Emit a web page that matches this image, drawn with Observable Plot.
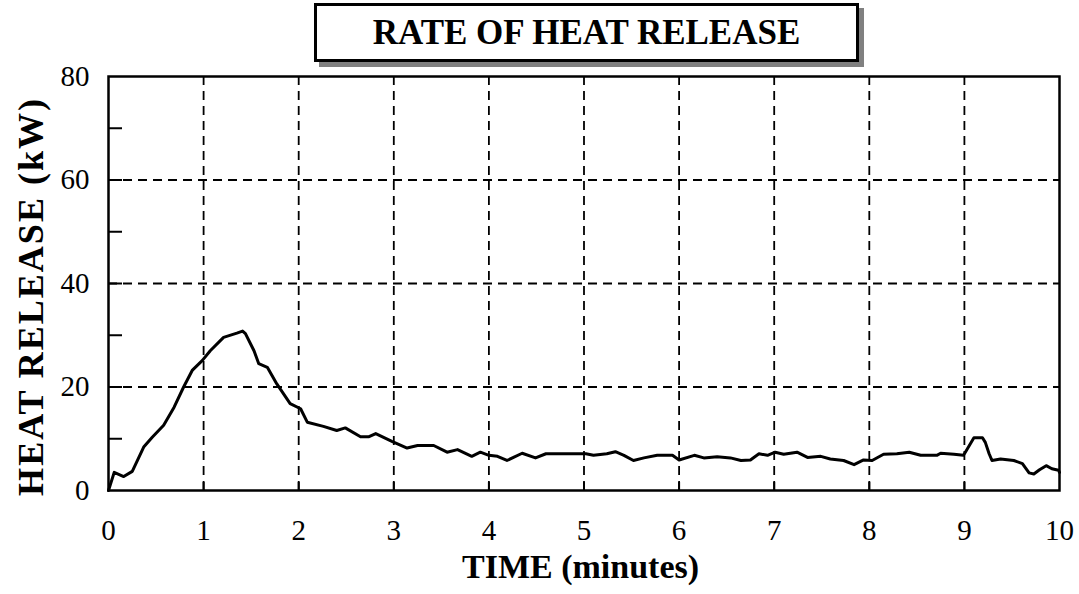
<!DOCTYPE html>
<html>
<head>
<meta charset="utf-8">
<script src="https://cdn.jsdelivr.net/npm/d3@7"></script>
<script src="https://cdn.jsdelivr.net/npm/@observablehq/plot@0.6"></script>
<style>
  html, body { margin: 0; padding: 0; background: #fff; }
  #wrap { position: relative; width: 1079px; height: 594px; }
  #title {
    position: absolute; left: 314px; top: 3px; width: 545px; height: 59px;
    box-sizing: border-box; border: 3px solid #000; background: #fff;
    box-shadow: 5px 5px 0 #808080;
    display: flex; align-items: center; justify-content: center;
    font-family: "Liberation Serif", "Times New Roman", serif; font-weight: bold; font-size: 35px;
    color: #000;
  }
  #wrap svg { position: absolute; left: 0; top: 0; }
  .ylab text { letter-spacing: 2px; }
</style>
</head>
<body>
<div id="wrap"><div id="title">RATE OF HEAT RELEASE</div></div>
<script>
const times = [0, 0.06, 0.16, 0.25, 0.37, 0.46, 0.58, 0.69, 0.79, 0.88, 0.985, 1.07, 1.21, 1.35, 1.41, 1.44, 1.53, 1.58, 1.67, 1.77, 1.91, 2.02, 2.09, 2.26, 2.40, 2.49, 2.65, 2.74, 2.81, 2.98, 3.14, 3.25, 3.42, 3.56, 3.67, 3.82, 3.91, 4.0, 4.09, 4.19, 4.35, 4.49, 4.60, 4.86, 5.02, 5.10, 5.24, 5.33, 5.42, 5.52, 5.63, 5.77, 5.93, 6.0, 6.16, 6.26, 6.40, 6.54, 6.65, 6.75, 6.84, 6.93, 7.01, 7.10, 7.24, 7.35, 7.49, 7.59, 7.73, 7.84, 7.94, 8.03, 8.15, 8.29, 8.42, 8.54, 8.71, 8.75, 8.89, 8.99, 9.01, 9.10, 9.19, 9.22, 9.26, 9.29, 9.38, 9.52, 9.61, 9.68, 9.73, 9.79, 9.86, 9.92, 9.99, 10.0];
const heat = [0, 3.5, 2.7, 3.7, 8.4, 10.3, 12.6, 16.1, 20, 23.2, 25.1, 27, 29.6, 30.4, 30.8, 30.3, 27, 24.5, 23.8, 20.6, 16.8, 15.8, 13.2, 12.4, 11.6, 12.1, 10.4, 10.4, 11, 9.5, 8.2, 8.7, 8.7, 7.4, 7.9, 6.6, 7.4, 6.8, 6.6, 5.8, 7.2, 6.3, 7.1, 7.1, 7.1, 6.8, 7.1, 7.5, 6.8, 5.8, 6.3, 6.8, 6.8, 5.9, 6.8, 6.3, 6.5, 6.3, 5.8, 5.9, 7.1, 6.8, 7.4, 7.0, 7.4, 6.4, 6.6, 6.1, 5.8, 5.0, 5.9, 5.8, 7.0, 7.1, 7.4, 6.8, 6.8, 7.2, 7.0, 6.8, 7.4, 10.2, 10.2, 9.3, 7.1, 5.8, 6.1, 5.8, 5.2, 3.4, 3.2, 4.0, 4.8, 4.2, 3.9, 3.5];
const xTicks = [0, 1, 2, 3, 4, 5, 6, 7, 8, 9, 10];
const yTicks = [0, 20, 40, 60, 80];
const yMinorTicks = [10, 20, 30, 40, 50, 60, 70];
const xGrid = [1, 2, 3, 4, 5, 6, 7, 8, 9];
const yGrid = [20, 40, 60];
const xLabel = "TIME (minutes)";
const yLabel = "HEAT RELEASE (kW)";

const data = times.map((t, i) => ({t, v: heat[i]}));
const serif = "'Liberation Serif', 'Times New Roman', serif";

const chart = Plot.plot({
  width: 1079,
  height: 594,
  marginLeft: 108,
  marginRight: 20,
  marginTop: 76,
  marginBottom: 104,
  style: {fontFamily: serif, color: "#000", background: "transparent"},
  x: {domain: [0, 10]},
  y: {domain: [0, 80]},
  marks: [
    Plot.gridX(xGrid, {stroke: "#000", strokeOpacity: 1, strokeWidth: 1.8, strokeDasharray: "9,6"}),
    Plot.gridY(yGrid, {stroke: "#000", strokeOpacity: 1, strokeWidth: 1.8, strokeDasharray: "9,6"}),
    Plot.axisY(yMinorTicks, {tickSize: -14, text: null, strokeWidth: 2, label: null}),
    Plot.axisX(xGrid, {tickSize: -8, text: null, strokeWidth: 2, label: null}),
    Plot.axisX(xTicks, {tickSize: 0, tickPadding: 29, fontSize: 29, label: null}),
    Plot.axisY(yTicks, {tickSize: 0, tickPadding: 19, fontSize: 29, label: null}),
    Plot.line(data, {x: "t", y: "v", stroke: "#000", strokeWidth: 3, strokeLinejoin: "round"}),
    Plot.frame({stroke: "#000", strokeWidth: 2.5}),
    Plot.text([xLabel], {text: d => d, frameAnchor: "bottom", dy: 87, dx: -3.5, fontSize: 34, fontWeight: "bold"}),
    Plot.text([yLabel], {text: d => d, frameAnchor: "left", textAnchor: "middle", dx: -77, dy: 13, rotate: -90, fontSize: 36, fontWeight: "bold", className: "ylab"})
  ]
});

document.getElementById("wrap").insertBefore(chart, document.getElementById("title"));
</script>
</body>
</html>
